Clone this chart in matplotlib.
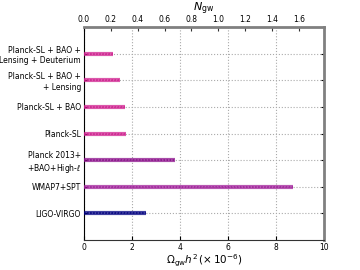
import numpy as np
import matplotlib.pyplot as plt

# data
labels = ['LIGO-VIRGO', 'WMAP7+SPT', 'Planck 2013+\n+BAO+High-$\\ell$',
          'Planck-SL', 'Planck-SL + BAO', 'Planck-SL + BAO +\n+ Lensing',
          'Planck-SL + BAO +\nLensing + Deuterium']
omega = [2.6, 8.7, 3.8, 1.75, 1.7, 1.5, 1.2]
colors = ['#000080', '#a0209a', '#8b108b', '#d0208f', '#d0208f', '#d0208f', '#d0208f']
conv = 5.6  # Omega_gw h^2 = 5.6e-6 N_gw

fig = plt.figure(figsize=(3.6, 2.7), dpi=100)
ax = fig.add_axes([0.233, 0.111, 0.667, 0.789])

ypos = np.arange(1, len(labels) + 1)
for y, v, c in zip(ypos, omega, colors):
    ax.hlines(y, 0, v, color=c, lw=3.0, alpha=0.75, zorder=3)
    ax.hlines(y, 0, v, color=c, lw=1.1, ls=(0, (1, 1)), zorder=4)

ax.set_xlim(0, 10)
ax.set_ylim(0, 8)
ax.set_yticks(ypos)
ax.set_yticklabels(labels, fontsize=5.5)
ax.set_xticks(np.arange(0, 11, 2))
ax.tick_params(axis='x', labelsize=5.5, direction='in', top=False, length=3, pad=2)
ax.tick_params(axis='y', direction='in', right=True, length=2, pad=2)
ax.grid(True, ls=':', color='#aaaaaa', lw=0.8)
ax.set_axisbelow(True)
ax.set_xlabel(r'$\Omega_{\rm gw}h^2\,(\times\,10^{-6})$', fontsize=7.5, labelpad=1)

for s in ['top', 'right']:
    ax.spines[s].set_color('#808080')
    ax.spines[s].set_linewidth(2)
ax.spines['left'].set_color('black')
ax.spines['bottom'].set_color('#333333')

sec = ax.secondary_xaxis('top', functions=(lambda x: x / conv, lambda n: n * conv))
sec.set_xticks(np.arange(0, 1.7, 0.2))
sec.tick_params(labelsize=5.5, direction='in', length=3, pad=2, colors='#333333')
sec.tick_params(labelcolor='black')
sec.spines['top'].set_visible(False)
sec.set_xlabel(r'$N_{\rm gw}$', fontsize=8, labelpad=3)

fig.savefig('out.png', dpi=100)
